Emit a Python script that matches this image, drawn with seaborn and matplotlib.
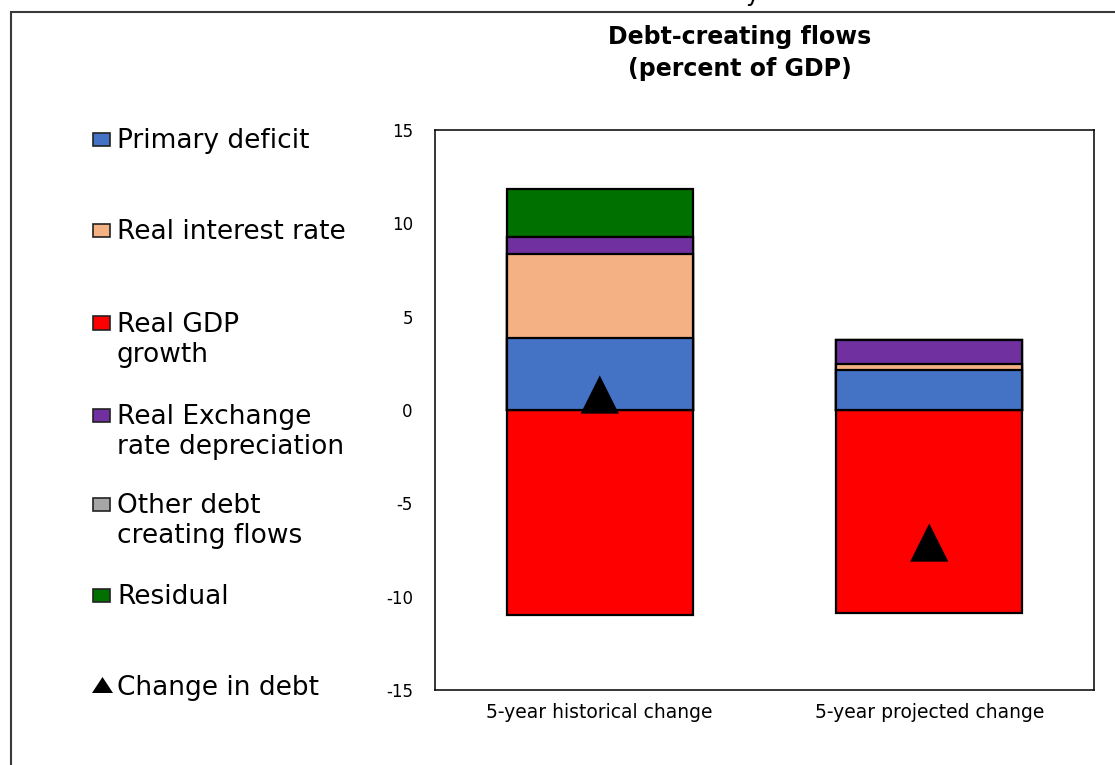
import numpy as np
import matplotlib
matplotlib.use("Agg")
import matplotlib.pyplot as plt
from matplotlib.patches import Rectangle, Polygon
import seaborn as sns

# ---- data -------------------------------------------------------------
periods = ["5-year historical change", "5-year projected change"]
primary_deficit = [3.85, 2.14]
real_interest_rate = [4.50, 0.32]
real_gdp_growth = [-11.00, -10.85]
real_exchange_rate = [0.90, 1.29]
other_flows = [0.0, 0.0]
residual = [2.58, 0.0]
change_in_debt = [0.83, -7.10]

component_labels = ["Primary deficit", "Real interest rate", "Real GDP\ngrowth",
                    "Real Exchange\nrate depreciation", "Other debt\ncreating flows",
                    "Residual"]
marker_label = "Change in debt"
component_colors = ["#4472C4", "#F4B183", "#FF0000", "#7030A0", "#A6A6A6", "#007000"]
yticks = [-15, -10, -5, 0, 5, 10, 15]

# ---- styling ----------------------------------------------------------
sns.set_theme(style="white")
plt.rcParams["font.family"] = ["DejaVu Sans"]
plt.rcParams["text.color"] = "black"

W, H = 1115, 765
fig = plt.figure(figsize=(W / 100, H / 100), dpi=100)
fx = lambda px: px / W
fy = lambda py: 1 - py / H

ax = fig.add_axes([fx(435), fy(690), fx(1094) - fx(435), fy(130) - fy(690)])

# ---- stacked bars: cumulative tops, drawn outermost first ----------------
components = [primary_deficit, real_interest_rate, real_gdp_growth,
              real_exchange_rate, other_flows, residual]
pos_cum = np.zeros(len(periods))
neg_cum = np.zeros(len(periods))
tops = []
for comp in components:
    v = np.asarray(comp, dtype=float)
    top = np.where(v >= 0, pos_cum + v, neg_cum + v)
    pos_cum = np.where(v >= 0, top, pos_cum)
    neg_cum = np.where(v < 0, top, neg_cum)
    tops.append(top)

for top, color in zip(reversed(tops), reversed(component_colors)):
    sns.barplot(x=periods, y=top, color=color, saturation=1, width=0.563,
                edgecolor="black", linewidth=1.6, errorbar=None, ax=ax, zorder=2)

sns.scatterplot(x=np.arange(len(periods)), y=change_in_debt, marker="^", s=760,
                color="black", edgecolor="none", ax=ax, zorder=5, legend=False)

ax.set_xlim(-0.5, 1.5)
ax.set_ylim(-15, 15)
ax.set_yticks(yticks)
ax.set_yticklabels([str(t) for t in yticks])
ax.set_xlabel("")
ax.set_ylabel("")
ax.tick_params(axis="y", length=0, pad=16, labelsize=12, colors="black")
ax.tick_params(axis="x", length=0, pad=9, labelsize=13.5, colors="black")
for sp in ax.spines.values():
    sp.set_visible(True)
    sp.set_color("black")
    sp.set_linewidth(1.1)

# ---- title (multi-line text is anchored at the baseline of its last line) ----
fig.text(fx(740), fy(76), "Debt-creating flows\n(percent of GDP)", ha="center",
         va="baseline", fontsize=17, fontweight="bold", linespacing=1.4,
         color="black")
fig.text(fx(752), fy(1), "y", ha="center", va="baseline", fontsize=17, color="black")

# ---- legend -------------------------------------------------------------
line_step = 30.0
label_centers = [138.3, 229.5, 322, 414, 503, 594.7]
for lab, col, cy in zip(component_labels, component_colors, label_centers):
    n_extra = lab.count("\n")
    fig.text(fx(117), fy(cy + 9.6 + n_extra * line_step), lab, ha="left",
             va="baseline", fontsize=19, color="black")
    fig.add_artist(Rectangle((fx(93), fy(cy + 7.5)), 17 / W, 13 / H,
                             transform=fig.transFigure, facecolor=col,
                             edgecolor="#222222", linewidth=1.2))
cy = 685
fig.text(fx(117), fy(cy + 9.6), marker_label, ha="left", va="baseline",
         fontsize=19, color="black")
fig.add_artist(Polygon([(fx(92), fy(693)), (fx(113), fy(693)), (fx(102.5), fy(677))],
                       closed=True, transform=fig.transFigure, facecolor="black",
                       edgecolor="none"))

# ---- outer frame --------------------------------------------------------
fig.add_artist(Rectangle((fx(11), -0.1), 1.5, fy(12) + 0.1, transform=fig.transFigure,
                         fill=False, edgecolor="#3a3a3a", linewidth=1.5))

fig.savefig("out.png", dpi=100)
